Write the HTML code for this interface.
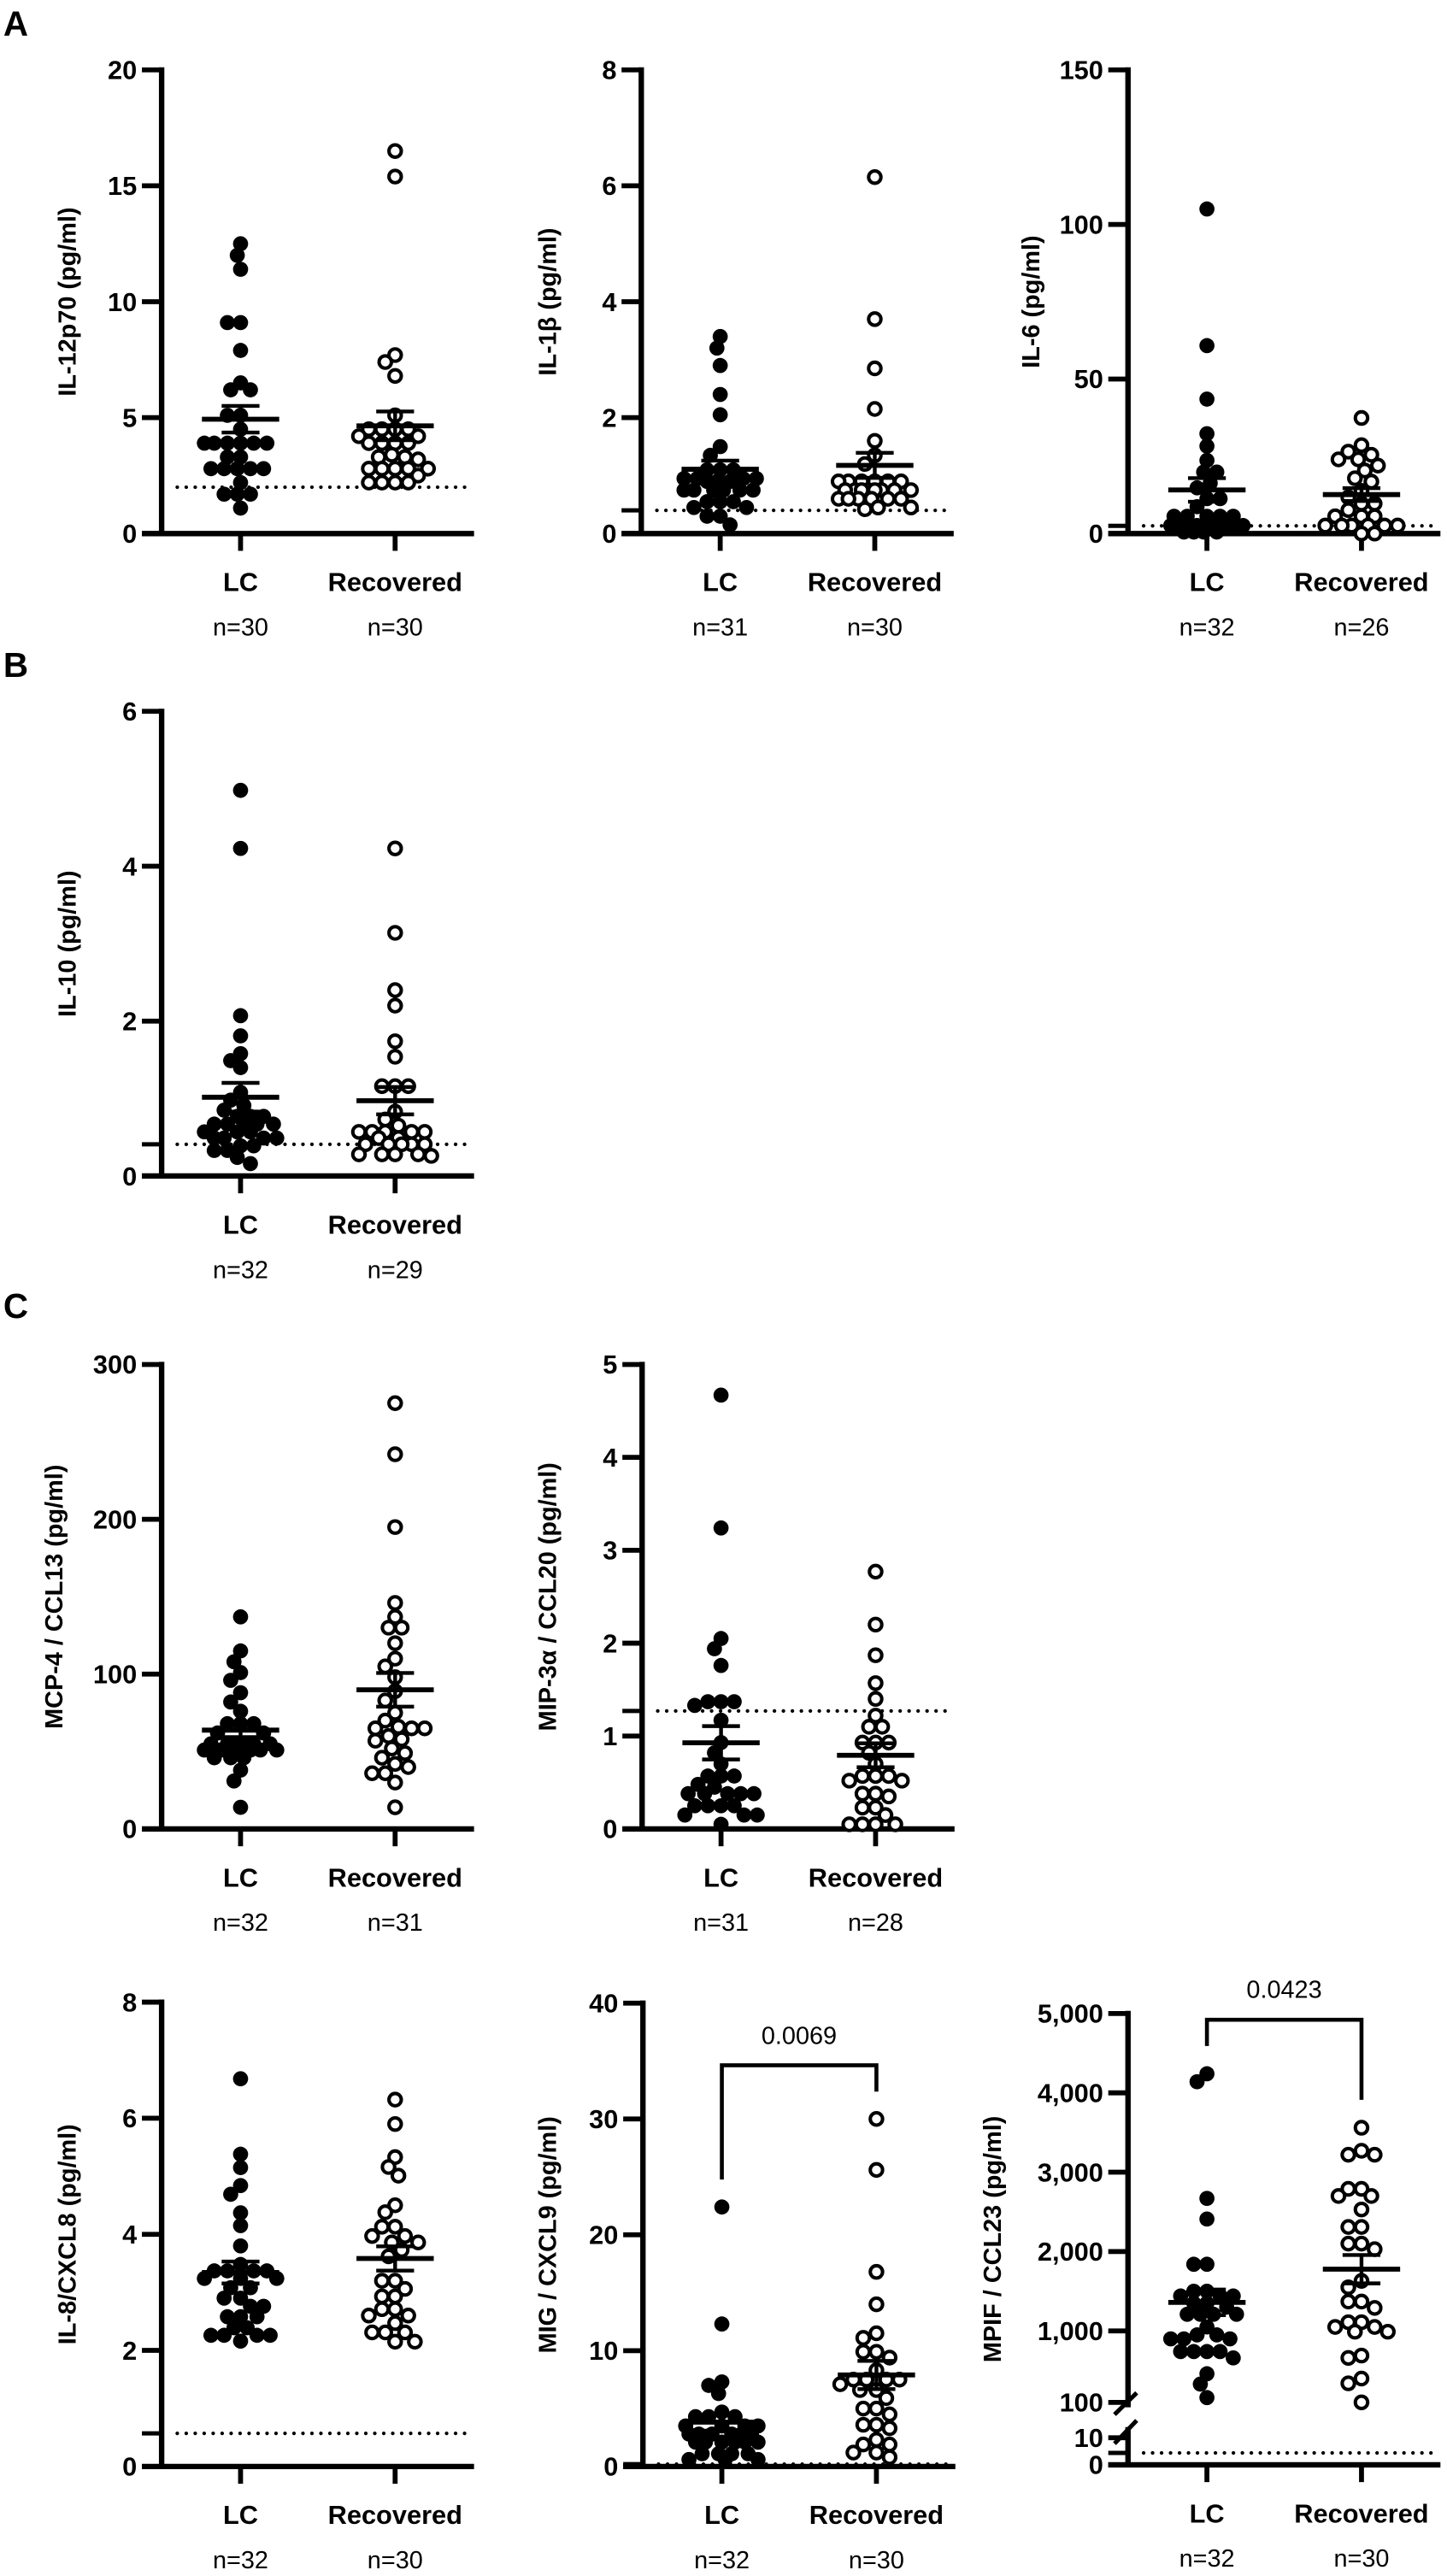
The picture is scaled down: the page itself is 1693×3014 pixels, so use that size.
<!DOCTYPE html>
<html><head><meta charset="utf-8">
<style>
html,body{margin:0;padding:0;background:#fff;}
svg{display:block;}
text{font-family:"Liberation Sans",Arial,sans-serif;fill:#000;}
</style></head>
<body>
<svg id="fig" xmlns="http://www.w3.org/2000/svg" width="1693" height="3014" viewBox="0 0 880 1566.6" preserveAspectRatio="none"></svg>
<script>
// ---------- data (pg/ml) ----------
const catLabels = ["LC", "Recovered"];
const il12LC = [12.5,12.0,11.4,9.1,9.1,7.9,6.5,6.2,6.2,5.1,5.1,4.5,3.9,3.9,3.9,3.9,3.9,3.9,3.3,3.3,2.8,2.8,2.8,2.8,2.8,2.2,1.7,1.7,1.7,1.1];
const il12Rec = [16.5,15.4,7.7,7.4,6.8,5.1,4.5,4.5,4.5,4.5,4.2,4.2,3.9,3.9,3.9,3.9,3.4,3.3,3.3,3.2,2.8,2.8,2.8,2.8,2.8,2.5,2.2,2.2,2.2,2.2];
const il12Ticks = [0,5,10,15,20];
const il1bLC = [3.4,3.2,2.9,2.4,2.05,1.5,1.35,1.1,1.1,1.1,0.95,0.95,0.95,0.95,0.9,0.9,0.9,0.75,0.75,0.75,0.75,0.75,0.75,0.55,0.55,0.55,0.45,0.45,0.3,0.3,0.15];
const il1bRec = [6.15,3.7,2.85,2.15,1.6,1.35,1.2,0.9,0.9,0.9,0.9,0.9,0.9,0.75,0.75,0.75,0.75,0.75,0.75,0.75,0.75,0.6,0.6,0.6,0.6,0.6,0.6,0.45,0.45,0.42];
const il1bTicks = [0,2,4,6,8];
const il6LC = [105,60.8,43.5,32.3,28.3,23.7,19.9,19.9,16.3,14.8,11.3,11.3,8.7,5.6,5.6,5.6,5.6,5.6,2.6,2.6,2.6,2.6,2.6,2.6,2.6,2.6,2.6,2.6,0.5,0.5,0.5,0.5];
const il6Rec = [37.4,28.6,26.5,25.5,24,24,22,20.4,17.9,16.8,13.8,11.7,9.7,9.7,7.6,5.6,5.6,5.6,2.6,2.6,2.6,2.6,2.6,2.6,0,0];
const il6Ticks = [0,50,100,150];
const il10LC = [4.98,4.23,2.07,1.81,1.58,1.49,1.4,1.08,0.98,0.91,0.85,0.77,0.77,0.77,0.67,0.67,0.67,0.67,0.67,0.57,0.57,0.57,0.49,0.49,0.49,0.49,0.39,0.39,0.33,0.33,0.24,0.16];
const il10Rec = [4.23,3.14,2.4,2.2,1.74,1.54,1.16,1.16,1.16,0.83,0.73,0.65,0.57,0.57,0.57,0.57,0.57,0.49,0.49,0.41,0.41,0.41,0.41,0.41,0.28,0.28,0.28,0.28,0.26];
const il10Ticks = [0,2,4,6];
const mcpLC = [137,115,108,101,96,88,82,76,68,68,68,62,62,55,55,55,55,55,55,55,51,51,51,51,51,51,46,46,46,38,31,14];
const mcpRec = [275,242,195,146,137,130,130,120,110,105,98,89,83,75,70,66,65,65,65,60,58,57,52,49,46,42,40,36,36,30,14];
const mcpTicks = [0,100,200,300];
const mipLC = [4.67,3.24,2.05,1.94,1.76,1.37,1.37,1.37,1.33,1.17,0.93,0.82,0.7,0.57,0.57,0.57,0.48,0.45,0.38,0.38,0.38,0.38,0.38,0.25,0.25,0.25,0.25,0.15,0.15,0.15,0.05];
const mipRec = [2.77,2.2,1.87,1.57,1.4,1.22,1.1,1.1,0.93,0.93,0.93,0.82,0.7,0.57,0.57,0.57,0.52,0.52,0.38,0.38,0.35,0.23,0.23,0.15,0.05,0.05,0.05,0.05];
const mipTicks = [0,1,2,3,4,5];
const il8LC = [6.68,5.38,5.15,4.84,4.69,4.37,4.15,3.8,3.48,3.37,3.37,3.37,3.37,3.24,3.24,3.24,3.08,3.08,2.9,2.9,2.76,2.76,2.58,2.58,2.58,2.39,2.39,2.26,2.26,2.26,2.26,2.16];
const il8Rec = [6.32,5.9,5.33,5.16,5.01,4.5,4.38,4.13,4.13,3.97,3.97,3.86,3.86,3.73,3.62,3.2,3.2,3.06,2.93,2.93,2.71,2.71,2.6,2.6,2.47,2.31,2.31,2.31,2.15,2.15];
const il8Ticks = [0,2,4,6,8];
const migLC = [22.4,12.3,7.3,7.0,6.3,4.7,4.3,4.3,4.3,3.5,3.5,3.5,3.5,2.8,2.8,2.8,2.8,2.8,2.8,2.1,2.1,2.1,2.1,2.1,2.1,1.1,1.1,1.1,1.1,0.6,0.6,0.6];
const migRec = [30,25.6,16.8,14,11.5,11.1,9.9,9.9,9.4,8.3,7.5,7.5,7.5,7.5,7.1,6.6,6.6,5.9,5.0,5.0,4.5,3.6,3.6,3.3,2.3,1.9,1.9,1.2,1.2,0.8];
const migTicks = [0,10,20,30,40];
const mpifLC = [4240,4140,2670,2410,1840,1840,1500,1500,1440,1440,1440,1350,1350,1300,1210,1210,1210,1210,1050,950,950,900,900,900,740,740,740,740,660,460,330,160];
const mpifRec = [3560,3270,3220,3220,2790,2790,2700,2700,2530,2310,2310,2100,2100,2030,1630,1550,1370,1370,1290,1110,1110,1050,1050,990,990,690,660,400,340,100];
const mpifTicks = [0,10,100,1000,2000,3000,4000,5000];
const mpifTickLabels = ["0","10","100","1,000","2,000","3,000","4,000","5,000"];
const lodValues = {il12:2.0, il1b:0.4, il6:2.5, il10:0.41, mip:1.27, il8:0.57, mig:0.2, mpif:4.4};
const pValues = {mig:"0.0069", mpif:"0.0423"};

// ---------- layout ----------
const NS = "http://www.w3.org/2000/svg";
const svg = document.getElementById("fig");
function el(tag, attrs, parent){
  const e = document.createElementNS(NS, tag);
  for (const k in attrs) e.setAttribute(k, attrs[k]);
  (parent||svg).appendChild(e);
  return e;
}
function linearY(max, top, bot){ return v => bot - v/max*(bot-top); }
function mpifY(v){
  if (v <= 10) return 1499 - v/10*16.5;
  return 1461 - (v-100)/4900*(1461-1224.5);
}
const panels = [
  {key:"il12", title:"IL-12p70 (pg/ml)", ax:98.3, top:42.5, bot:324.5, max:20, ticks:il12Ticks, lc:il12LC, rec:il12Rec, tx:46, lodTick:false},
  {key:"il1b", title:"IL-1β (pg/ml)", ax:390, top:42.5, bot:324.5, max:8, ticks:il1bTicks, lc:il1bLC, rec:il1bRec, tx:338, lodTick:true},
  {key:"il6", title:"IL-6 (pg/ml)", ax:686, top:42.5, bot:324.5, max:150, ticks:il6Ticks, lc:il6LC, rec:il6Rec, tx:632, lodTick:true},
  {key:"il10", title:"IL-10 (pg/ml)", ax:98.3, top:432.6, bot:715.2, max:6, ticks:il10Ticks, lc:il10LC, rec:il10Rec, tx:46, lodTick:true},
  {key:"mcp", title:"MCP-4 / CCL13 (pg/ml)", ax:98.3, top:829.8, bot:1112.3, max:300, ticks:mcpTicks, lc:mcpLC, rec:mcpRec, tx:38, lodTick:false},
  {key:"mip", title:"MIP-3α / CCL20 (pg/ml)", ax:390.5, top:829.8, bot:1112.3, max:5, ticks:mipTicks, lc:mipLC, rec:mipRec, tx:338, lodTick:true},
  {key:"il8", title:"IL-8/CXCL8 (pg/ml)", ax:98.3, top:1217.6, bot:1500, max:8, ticks:il8Ticks, lc:il8LC, rec:il8Rec, tx:46, lodTick:true},
  {key:"mig", title:"MIG / CXCL9 (pg/ml)", ax:391, top:1218.2, bot:1500, max:40, ticks:migTicks, lc:migLC, rec:migRec, tx:338, lodTick:true,
   bracket:{top:1256, l:1325.5, r:1272, ty:1243}},
  {key:"mpif", title:"MPIF / CCL23 (pg/ml)", ax:686, top:1224.5, bot:1499, max:5000, ticks:mpifTicks, tickLabels:mpifTickLabels, lc:mpifLC, rec:mpifRec, tx:608.6, lodTick:true, yfun:mpifY,
   bracket:{top:1228.3, l:1244.3, r:1277, ty:1215}}
];

// panel letters
[["A",21.6],["B",411.7],["C",801.5]].forEach(([t,y])=>{
  const e = el("text",{x:2,y:y,"font-size":21,"font-weight":"bold"});
  e.textContent = t;
  
  
});

function swarm(vals, yf, cx){
  const order = vals.map((v,i)=>i).sort((a,b)=>vals[b]-vals[a]);
  const placed = [];
  const out = new Array(vals.length);
  const D = 7.2, s = 2, maxOff = 22;
  order.forEach(i=>{
    const y = yf(vals[i]);
    let chosen = null, best = cx, bestD = -1;
    for (let k=0; ; k++){
      const off = (k%2===0?1:-1)*Math.ceil(k/2)*s;
      if (Math.abs(off) > maxOff) break;
      const x = cx + off;
      let md = 1e9;
      for (const p of placed){ const d = Math.hypot(p[0]-x, p[1]-y); if (d < md) md = d; }
      if (md >= D){ chosen = x; break; }
      if (md > bestD){ bestD = md; best = x; }
    }
    if (chosen === null) chosen = best;
    placed.push([chosen,y]);
    out[i] = [chosen,y];
  });
  return out;
}
function stats(a){
  const n=a.length, m=a.reduce((s,v)=>s+v,0)/n;
  const sd=Math.sqrt(a.reduce((s,v)=>s+(v-m)**2,0)/(n-1));
  return [m, sd/Math.sqrt(n)];
}

panels.forEach(p=>{
  const g = el("g",{});
  
  
  const yf = p.yfun || linearY(p.max, p.top, p.bot);
  const cats = [p.ax+48, p.ax+142];
  const xEnd = p.ax+190;
  if (p.key === "mpif"){
    const a1 = el("line",{x1:p.ax,y1:p.top-1.6,x2:p.ax,y2:1464,stroke:"#000","stroke-width":3.3},g);
    
    
    const a2 = el("line",{x1:p.ax,y1:1476,x2:p.ax,y2:p.bot,stroke:"#000","stroke-width":3.3},g);
    
    
    [[1468.4,1455.2],[1486.1,1472]].forEach(([ya,yb])=>{
      const b = el("line",{x1:p.ax-8.2,y1:ya,x2:p.ax+5.3,y2:yb,stroke:"#000","stroke-width":2.6},g);
      
      
    });
  } else {
    const ya = el("line",{x1:p.ax,y1:p.top-1.6,x2:p.ax,y2:p.bot,stroke:"#000","stroke-width":3.3},g);
    
    
  }
  const xa = el("line",{x1:p.ax-12,y1:p.bot,x2:xEnd,y2:p.bot,stroke:"#000","stroke-width":3.3},g);
  
  
  p.ticks.forEach((t,i)=>{
    const y = yf(t);
    const tl = el("line",{x1:p.ax-12,y1:y,x2:p.ax,y2:y,stroke:"#000","stroke-width":3},g);
    
    
    const tt = el("text",{x:p.ax-15,y:y+5.6,"font-size":16,"font-weight":"bold","text-anchor":"end"},g);
    tt.textContent = p.tickLabels ? p.tickLabels[i] : String(t);
    
    
  });
  const lod = lodValues[p.key];
  if (lod !== undefined){
    const ly = yf(lod);
    const dl = el("line",{x1:p.ax+9.5,y1:ly,x2:xEnd-2,y2:ly,stroke:"#000","stroke-width":2.2,"stroke-dasharray":"0.01 5.45","stroke-linecap":"round"},g);
    
    
    if (p.lodTick){
      const lt = el("line",{x1:p.ax-12,y1:ly,x2:p.ax,y2:ly,stroke:"#000","stroke-width":2.6},g);
      
      
    }
  }
  const groups = [p.lc, p.rec];
  cats.forEach((cx,i)=>{
    const xt = el("line",{x1:cx,y1:p.bot,x2:cx,y2:p.bot+10.5,stroke:"#000","stroke-width":3},g);
    
    
    const cl = el("text",{x:cx,y:p.bot+35,"font-size":16,"font-weight":"bold","text-anchor":"middle"},g);
    cl.textContent = catLabels[i];
    
    
    const nl = el("text",{x:cx,y:p.bot+62,"font-size":15,"text-anchor":"middle"},g);
    nl.textContent = "n=" + groups[i].length;
    
    
  });
  const ty = (p.top+p.bot)/2;
  const at = el("text",{x:p.tx,y:ty,"font-size":15,"font-weight":"bold","text-anchor":"middle",transform:`rotate(-90 ${p.tx} ${ty})`},g);
  at.textContent = p.title;
  
  
  groups.forEach((vals,gi)=>{
    const pos = swarm(vals, yf, cats[gi]);
    pos.forEach(([x,y])=>{
      const c = gi===0
        ? el("circle",{cx:x,cy:y,r:4.6,fill:"#000"},g)
        : el("circle",{cx:x,cy:y,r:3.75,fill:"#fff",stroke:"#000","stroke-width":2.1},g);
      
      
    });
  });
  groups.forEach((vals,gi)=>{
    const [m,se] = stats(vals);
    const cx = cats[gi];
    const ym = yf(m), y1 = yf(m+se), y2 = yf(Math.max(0,m-se));
    const ml = el("line",{x1:cx-23.5,y1:ym,x2:cx+23.5,y2:ym,stroke:"#000","stroke-width":3},g);
    
    
    const vl = el("line",{x1:cx,y1:y1,x2:cx,y2:y2,stroke:"#000","stroke-width":2.3},g);
    
    
    [y1,y2].forEach(yy=>{
      const cap = el("line",{x1:cx-11.5,y1:yy,x2:cx+11.5,y2:yy,stroke:"#000","stroke-width":2.3},g);
      
      
    });
  });
  if (p.bracket){
    const b = p.bracket;
    const br = el("polyline",{points:`${cats[0]},${b.l} ${cats[0]},${b.top} ${cats[1]},${b.top} ${cats[1]},${b.r}`,fill:"none",stroke:"#000","stroke-width":2.4},g);
    
    
    const pt = el("text",{x:(cats[0]+cats[1])/2,y:b.ty,"font-size":15,"text-anchor":"middle"},g);
    pt.textContent = pValues[p.key];
    
    
  }
});
</script>
</body></html>
